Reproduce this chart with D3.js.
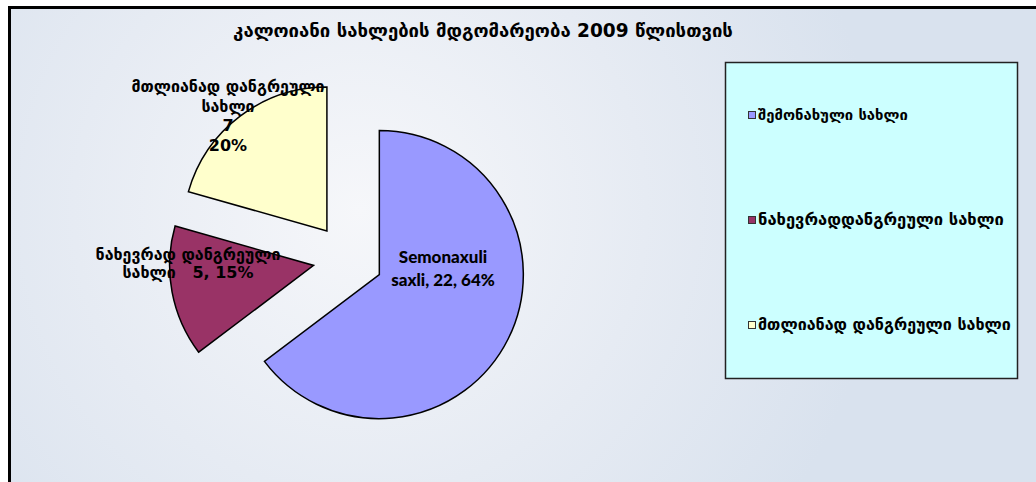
<!DOCTYPE html>
<html>
<head>
<meta charset="utf-8">
<script src="https://cdn.jsdelivr.net/npm/d3@7/dist/d3.min.js"></script>
<style>
  body { margin: 0; background: #ffffff; }
  svg { display: block; }
</style>
</head>
<body>
<svg id="chart"></svg>
<script>
const title = "კალოიანი სახლების მდგომარეობა 2009 წლისთვის"
const categories = ["შემონახული სახლი", "ნახევრადდანგრეული სახლი", "მთლიანად დანგრეული სახლი"]
const values = [22, 5, 7]
const percents = ["64%", "15%", "20%"]
const colors = ["#9999ff", "#993366", "#ffffcc"]

const width = 1036, height = 482

const svg = d3.select("#chart")
    .attr("width", width)
    .attr("height", height)

const defs = svg.append("defs")
const grad = defs.append("radialGradient")
    .attr("id", "bg")
    .attr("gradientUnits", "userSpaceOnUse")
    .attr("cx", 360).attr("cy", 210).attr("r", 520)
grad.append("stop").attr("offset", "0%").attr("stop-color", "#f6f7fa")
grad.append("stop").attr("offset", "55%").attr("stop-color", "#e6ebf3")
grad.append("stop").attr("offset", "100%").attr("stop-color", "#d9e2ee")

// chart area frame
svg.append("rect")
    .attr("x", 9.5).attr("y", 7.5)
    .attr("width", width + 20).attr("height", height + 20)
    .style("fill", "url(#bg)")
    .style("stroke", "#000")
    .style("stroke-width", 3)

// fits a text element to a given width by changing its font size
function fitText(sel, target) {
    const w = sel.node().getComputedTextLength()
    const fs = parseFloat(sel.style("font-size"))
    sel.style("font-size", (fs * target / w) + "px")
}

const geoFont = "'DejaVu Sans', sans-serif"

const t = svg.append("text")
    .attr("x", 483).attr("y", 37)
    .attr("text-anchor", "middle")
    .style("font-family", geoFont)
    .style("font-weight", "bold")
    .style("font-size", "16px")
    .text(title)
fitText(t, 500)

// pie
const cx = 348, cy = 259, radius = 144, explode = 35

const pie = d3.pie().sort(null).startAngle(0).endAngle(2 * Math.PI)
const arcs = pie(values)
const arc = d3.arc().innerRadius(0).outerRadius(radius)

const g = svg.append("g").attr("transform", `translate(${cx},${cy})`)

g.selectAll("path")
    .data(arcs)
    .join("path")
    .attr("d", arc)
    .attr("transform", d => {
        const a = (d.startAngle + d.endAngle) / 2
        return `translate(${Math.sin(a) * explode},${-Math.cos(a) * explode})`
    })
    .style("fill", (d, i) => colors[i])
    .style("stroke", "#000")
    .style("stroke-width", 1.5)
    .style("stroke-linejoin", "miter")

// data labels
function multiLabel(x, y, lines, lh, font, size) {
    const txt = svg.append("text")
        .attr("text-anchor", "middle")
        .style("font-family", font)
        .style("font-weight", "bold")
        .style("font-size", size + "px")
        .style("fill", "#000")
    lines.forEach((l, i) => {
        txt.append("tspan").attr("x", x).attr("y", y + i * lh).text(l)
    })
    return txt
}

multiLabel(443, 263, ["Semonaxuli", `saxli, ${values[0]}, ${percents[0]}`], 23, "Lato, sans-serif", 17)
    .style("font-weight", 900)

const redLab = multiLabel(188, 260, ["ნახევრად დანგრეული", `სახლი   ${values[1]}, ${percents[1]}`], 18, geoFont, 16)
redLab.style("white-space", "pre")

multiLabel(228, 92, ["მთლიანად დანგრეული", "სახლი", `${values[2]}`, percents[2]], 19.5, geoFont, 16)

// legend
const legend = svg.append("g")
legend.append("rect")
    .attr("x", 725.5).attr("y", 62.5)
    .attr("width", 292).attr("height", 316)
    .style("fill", "#ccffff")
    .style("stroke", "#222")
    .style("stroke-width", 1.5)

const legendY = d3.scalePoint().domain(categories).range([116, 326])
const legendW = [150, 246, 253]

categories.forEach((c, i) => {
    const y = legendY(c)
    legend.append("rect")
        .attr("x", 748.5).attr("y", y - 4.5)
        .attr("width", 7).attr("height", 7)
        .style("fill", colors[i])
        .style("stroke", "#333")
        .style("stroke-width", 1)
    const lt = legend.append("text")
        .attr("x", 758).attr("y", y + 4)
        .style("font-family", geoFont)
        .style("font-weight", "bold")
        .style("font-size", "14px")
        .text(c)
    fitText(lt, legendW[i])
})
</script>
</body>
</html>
